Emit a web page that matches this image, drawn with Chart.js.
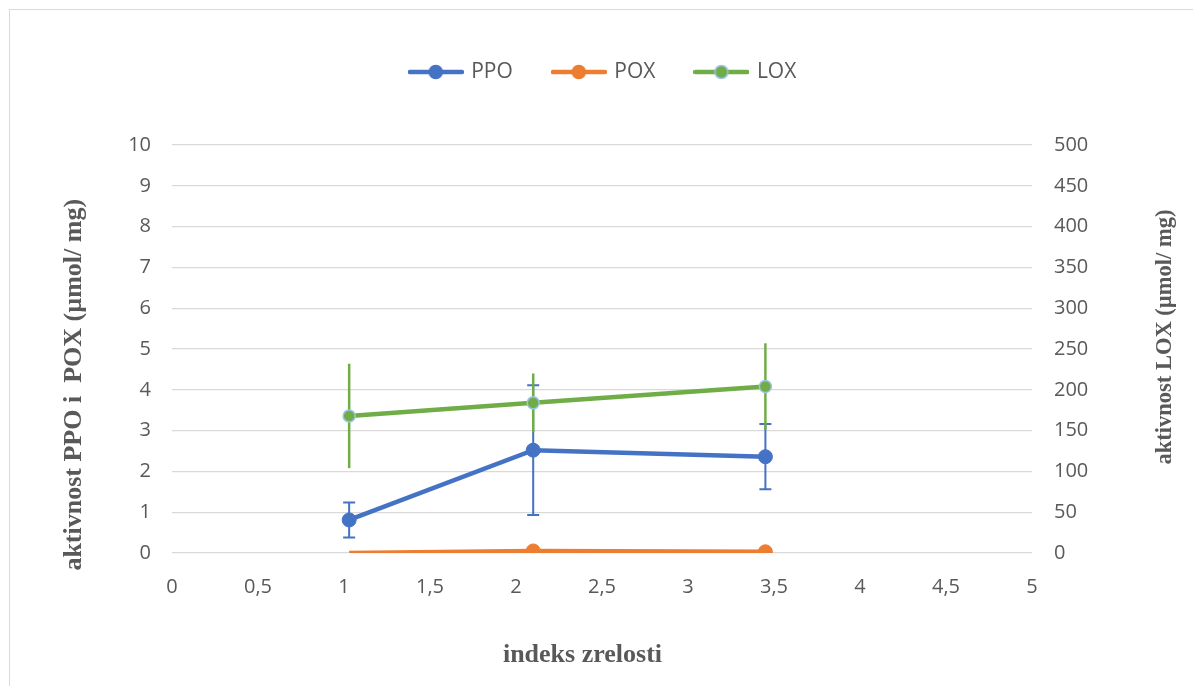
<!DOCTYPE html>
<html>
<head>
<meta charset="utf-8">
<script src="https://cdn.jsdelivr.net/npm/chart.js@4/dist/chart.umd.min.js"></script>
<style>
  html, body { margin: 0; padding: 0; background: #fff; overflow: hidden; }
  .frame { position: absolute; left: 9px; top: 9px; width: 2000px; height: 2000px; border: 1.5px solid #d9d9d9; }
  .wrap { position: absolute; left: 0; top: 0; width: 1193px; height: 686px; }
</style>
</head>
<body>
<div class="frame"></div>
<div class="wrap"><canvas id="chart"></canvas></div>
<script>
"use strict"

const xValues = [1.03, 2.1, 3.45];
const seriesNames = ['PPO', 'POX', 'LOX'];
const ppoValues = [0.81, 2.52, 2.36];
const ppoErrors = [0.43, 1.59, 0.80];
const poxValues = [0, 0.05, 0.03];
const poxErrors = [0, 0, 0];
const loxValues = [168, 184, 204];
const loxErrors = [64, 36, 53];
const xTicks = [0, 0.5, 1, 1.5, 2, 2.5, 3, 3.5, 4, 4.5, 5];
const leftTicks = [0, 1, 2, 3, 4, 5, 6, 7, 8, 9, 10];
const rightTicks = [0, 50, 100, 150, 200, 250, 300, 350, 400, 450, 500];

const gray = '#595959';
const blue = '#4472C4';
const orange = '#ED7D31';
const green = '#70AD47';
const tickFont = { family: 'Open Sans', size: 20 };
const titleFont = { family: 'Liberation Serif', size: 26, weight: 'bold' };
const nb = n => '\u00a0'.repeat(n);

// little line+circle picture for the legend
function legendIcon(color, border) {
    const c = document.createElement('canvas');
    c.width = 56;
    c.height = 18;
    const ctx = c.getContext('2d');
    ctx.strokeStyle = color;
    ctx.lineWidth = 4.5;
    ctx.lineCap = 'round';
    ctx.beginPath();
    ctx.moveTo(2, 9);
    ctx.lineTo(54, 9);
    ctx.stroke();
    ctx.beginPath();
    ctx.arc(28, 9, 6.5, 0, Math.PI * 2);
    ctx.fillStyle = color;
    ctx.fill();
    ctx.lineWidth = 1.5;
    ctx.strokeStyle = border;
    ctx.stroke();
    return c;
}

function points(values) {
    return values.map((v, i) => ({ x: xValues[i], y: v }));
}

const errorBars = {
    id: 'errorBars',
    beforeDatasetDraw(chart, args) {
        const ds = chart.data.datasets[args.index];
        if (!ds.errors) return;
        const yScale = chart.scales[ds.yAxisID];
        const ctx = chart.ctx;
        ctx.save();
        ctx.strokeStyle = ds.borderColor;
        ctx.lineWidth = ds.errorWidth;
        args.meta.data.forEach((pt, i) => {
            const err = ds.errors[i];
            if (!err) return;
            const v = ds.data[i].y;
            const top = yScale.getPixelForValue(v + err);
            const bot = yScale.getPixelForValue(Math.max(v - err, 0));
            ctx.beginPath();
            ctx.moveTo(pt.x, top);
            ctx.lineTo(pt.x, bot);
            if (ds.capSize) {
                ctx.moveTo(pt.x - ds.capSize, top);
                ctx.lineTo(pt.x + ds.capSize, top);
                ctx.moveTo(pt.x - ds.capSize, bot);
                ctx.lineTo(pt.x + ds.capSize, bot);
            }
            ctx.stroke();
        });
        ctx.restore();
    }
};

// right axis title reads bottom to top like the left one
const rightTitle = {
    id: 'rightTitle',
    afterDraw(chart) {
        const s = chart.scales.y1;
        const ctx = chart.ctx;
        ctx.save();
        ctx.translate(s.left + 133, 337);
        ctx.rotate(-Math.PI / 2);
        ctx.font = 'bold 22.5px "Liberation Serif"';
        ctx.fillStyle = gray;
        ctx.textAlign = 'center';
        ctx.textBaseline = 'middle';
        ctx.fillText('aktivnost LOX (µmol/ mg)', 0, 0);
        ctx.restore();
    }
};

const legendGap = {
    id: 'legendGap',
    beforeInit(chart) {
        const fit = chart.legend.fit;
        chart.legend.fit = function () {
            fit.bind(chart.legend)();
            this.height = 124.5;
        };
    },
    afterLayout(chart) {
        chart.legend.left += 7;
        chart.legend.right += 7;
    }
};

const icons = [legendIcon(blue, blue), legendIcon(orange, orange), legendIcon(green, '#9DC3E6')];

new Chart(document.getElementById('chart'), {
    type: 'line',
    data: {
        datasets: [
            {
                label: seriesNames[0],
                data: points(ppoValues),
                errors: ppoErrors,
                errorWidth: 2,
                capSize: 6,
                yAxisID: 'y',
                borderColor: blue,
                backgroundColor: blue,
                borderWidth: 4.5,
                pointRadius: 7,
                pointBorderWidth: 1,
                order: 3
            },
            {
                label: seriesNames[1],
                data: points(poxValues),
                errors: poxErrors,
                errorWidth: 2,
                capSize: 6,
                yAxisID: 'y',
                borderColor: orange,
                backgroundColor: orange,
                borderWidth: 4.5,
                pointRadius: [0, 7, 7],
                pointBorderWidth: 1,
                order: 2
            },
            {
                label: seriesNames[2],
                data: points(loxValues),
                errors: loxErrors,
                errorWidth: 2.5,
                capSize: 0,
                yAxisID: 'y1',
                borderColor: green,
                backgroundColor: green,
                pointBorderColor: '#9DC3E6',
                borderWidth: 4.5,
                pointRadius: 6,
                pointBorderWidth: 1.5,
                order: 1
            }
        ]
    },
    options: {
        responsive: true,
        maintainAspectRatio: false,
        devicePixelRatio: 1,
        animation: false,
        layout: { padding: { top: 20.5, left: 0, right: 0, bottom: 0 } },
        plugins: {
            tooltip: { enabled: false },
            legend: {
                position: 'top',
                labels: {
                    usePointStyle: true,
                    pointStyleWidth: 50,
                    padding: 41,
                    color: gray,
                    font: { family: 'Open Sans', size: 21 },
                    generateLabels(chart) {
                        return chart.data.datasets.map((ds, i) => ({
                            text: ds.label,
                            pointStyle: icons[i],
                            fontColor: gray,
                            datasetIndex: i,
                            lineWidth: 0
                        }));
                    }
                }
            }
        },
        scales: {
            x: {
                type: 'linear',
                min: 0,
                max: 5,
                afterBuildTicks(s) { s.ticks = xTicks.map(v => ({ value: v })); },
                afterFit(s) { s.height = 133; },
                grid: { display: false },
                border: { display: false },
                ticks: {
                    padding: 14,
                    color: gray,
                    font: tickFont,
                    callback: v => String(v).replace('.', ',')
                },
                title: {
                    display: true,
                    text: 'indeks zrelosti' + nb(6),
                    color: gray,
                    font: titleFont,
                    padding: { top: 0, bottom: 15 }
                }
            },
            y: {
                position: 'left',
                min: 0,
                max: 10,
                afterBuildTicks(s) { s.ticks = leftTicks.map(v => ({ value: v })); },
                afterFit(s) { s.width = 172; },
                grid: { color: '#d9d9d9', lineWidth: 1.3, drawTicks: false },
                border: { display: false },
                ticks: { padding: 21, color: gray, font: tickFont },
                title: {
                    display: true,
                    text: 'aktivnost PPO i  POX (µmol/ mg)' + nb(11),
                    color: gray,
                    font: titleFont,
                    padding: { top: 59, bottom: 0 }
                }
            },
            y1: {
                position: 'right',
                min: 0,
                max: 500,
                afterBuildTicks(s) { s.ticks = rightTicks.map(v => ({ value: v })); },
                afterFit(s) { s.width = 161; },
                grid: { drawOnChartArea: false, drawTicks: false },
                border: { display: false },
                ticks: { padding: 22, color: gray, font: tickFont }
            }
        }
    },
    plugins: [errorBars, rightTitle, legendGap]
});
</script>
</body>
</html>
